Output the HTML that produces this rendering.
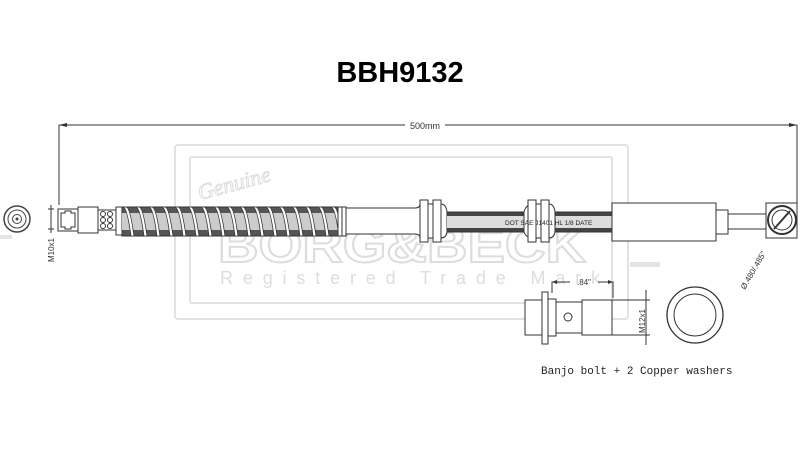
<!DOCTYPE html>
<html><head><meta charset="utf-8"><style>
html,body{margin:0;padding:0;background:#fff;width:800px;height:464px;overflow:hidden}
</style></head><body>
<svg width="800" height="464" viewBox="0 0 800 464" xmlns="http://www.w3.org/2000/svg" font-family="Liberation Sans, sans-serif">
<rect width="800" height="464" fill="#fff"/>
<text x="400" y="82" text-anchor="middle" font-size="29" font-weight="bold" fill="#000">BBH9132</text>
<!-- dimension -->
<line x1="59" y1="125" x2="797" y2="125" stroke="#333" stroke-width="1"/>
<polygon points="59,125 67,123 67,127" fill="#333"/>
<polygon points="797,125 789,123 789,127" fill="#333"/>
<rect x="405" y="119" width="40" height="12" fill="#fff"/>
<text x="425" y="129" text-anchor="middle" font-size="9" fill="#333">500mm</text>
<line x1="59" y1="125" x2="59" y2="205" stroke="#333"/>
<line x1="797" y1="125" x2="797" y2="203" stroke="#333"/>
<!-- watermark -->
<g fill="none" stroke="#e2e2e2" stroke-width="2">
<rect x="175" y="145" width="453" height="174" rx="3"/>
<rect x="190" y="157" width="422" height="146" rx="2"/>
</g>
<text x="200" y="200" font-size="22" font-style="italic" fill="none" stroke="#ddd" font-family="Liberation Serif, serif" transform="rotate(-15 200 200)">Genuine</text>
<text x="218" y="262" font-size="50" font-weight="bold" fill="none" stroke="#ddd" stroke-width="2" textLength="368" lengthAdjust="spacingAndGlyphs">BORG&amp;BECK</text>
<text x="220" y="284" font-size="18" fill="#ddd" textLength="380" lengthAdjust="spacing">Registered Trade Mark</text>
<g fill="#e4e4e4"><rect x="630" y="205" width="30" height="5"/><rect x="630" y="235" width="25" height="5"/><rect x="630" y="262" width="30" height="5"/><rect x="0" y="235" width="12" height="4"/></g>
<!-- left end circle -->
<circle cx="17" cy="219" r="13" fill="#fff" stroke="#444" stroke-width="1.5"/>
<circle cx="17" cy="219" r="9" fill="none" stroke="#444"/>
<circle cx="17" cy="219" r="4.5" fill="none" stroke="#444"/>
<circle cx="17" cy="219" r="1.5" fill="#444"/>
<!-- M10x1 -->
<line x1="51" y1="205" x2="51" y2="233" stroke="#333"/>
<line x1="48" y1="209" x2="54" y2="209" stroke="#333"/>
<line x1="48" y1="229" x2="54" y2="229" stroke="#333"/>
<text x="0" y="0" font-size="8" fill="#333" transform="translate(54 262) rotate(-90)">M10x1</text>
<!-- hose -->
<g stroke="#333" fill="#fff" stroke-width="1">
<rect x="58" y="209" width="20" height="22"/>
<path d="M61 213h4v-2h6v2h4v14h-4v2h-6v-2h-4z" fill="none"/>
<rect x="78" y="207" width="20" height="26"/>
<rect x="98" y="210" width="18" height="20"/>
<rect x="116" y="207" width="6" height="28"/>
<rect x="122" y="207" width="223" height="29" fill="#555"/>
<rect x="122" y="213" width="223" height="17" fill="#ccc" stroke="none"/>
</g>
<g fill="none" stroke="#333">
<circle cx="103" cy="214" r="2.5"/><circle cx="103" cy="220" r="2.5"/><circle cx="103" cy="226" r="2.5"/>
<circle cx="110" cy="214" r="2.5"/><circle cx="110" cy="220" r="2.5"/><circle cx="110" cy="226" r="2.5"/>
</g>
<g id="sp" fill="#fff" stroke="#333" stroke-width="0.8">
<path d="M126 207 q4 0 8 29 h-3 q-4 -29 -8 -29z"/>
<path d="M139 207 q4 0 8 29 h-3 q-4 -29 -8 -29z"/>
<path d="M152 207 q4 0 8 29 h-3 q-4 -29 -8 -29z"/>
<path d="M165 207 q4 0 8 29 h-3 q-4 -29 -8 -29z"/>
<path d="M178 207 q4 0 8 29 h-3 q-4 -29 -8 -29z"/>
<path d="M191 207 q4 0 8 29 h-3 q-4 -29 -8 -29z"/>
<path d="M204 207 q4 0 8 29 h-3 q-4 -29 -8 -29z"/>
<path d="M217 207 q4 0 8 29 h-3 q-4 -29 -8 -29z"/>
<path d="M230 207 q4 0 8 29 h-3 q-4 -29 -8 -29z"/>
<path d="M243 207 q4 0 8 29 h-3 q-4 -29 -8 -29z"/>
<path d="M256 207 q4 0 8 29 h-3 q-4 -29 -8 -29z"/>
<path d="M269 207 q4 0 8 29 h-3 q-4 -29 -8 -29z"/>
<path d="M282 207 q4 0 8 29 h-3 q-4 -29 -8 -29z"/>
<path d="M295 207 q4 0 8 29 h-3 q-4 -29 -8 -29z"/>
<path d="M308 207 q4 0 8 29 h-3 q-4 -29 -8 -29z"/>
<path d="M321 207 q4 0 8 29 h-3 q-4 -29 -8 -29z"/>
<path d="M334 207 q4 0 8 29 h-3 q-4 -29 -8 -29z"/>
</g>
<g stroke="#333" fill="#fff">
<rect x="338" y="207" width="4" height="29"/><rect x="342" y="207" width="4" height="29"/>
<path d="M346 208 H415 Q420 208 420 204 V238 Q420 234 415 234 H346z"/>
<rect x="420" y="200" width="8" height="42"/><rect x="433" y="200" width="8" height="42"/>
<rect x="428" y="204" width="5" height="34"/>
<path d="M441 204 Q446 204 447 212 V232 Q446 238 441 238z"/>
<rect x="447" y="212" width="165" height="20" fill="#444"/>
<rect x="447" y="216" width="165" height="12" fill="#ddd" stroke="none"/>
<path d="M534 204 Q526 204 524 212 V232 Q526 238 534 238z"/>
<rect x="528" y="200" width="8" height="42"/><rect x="541" y="200" width="8" height="42"/>
<rect x="536" y="204" width="5" height="34"/>
<path d="M549 204 Q554 204 555 212 V232 Q554 238 549 238z"/>
<rect x="612" y="203" width="104" height="38"/>
<rect x="716" y="210" width="12" height="24"/>
<rect x="728" y="214" width="38" height="15"/>
<rect x="766" y="203" width="31" height="35"/>
<circle cx="782" cy="220" r="14" stroke-width="2"/>
<circle cx="782" cy="220" r="10"/>
<line x1="774" y1="229" x2="790" y2="211" stroke-width="2"/>
</g>
<text x="505" y="225" font-size="6.5" fill="#222">DOT SAE J1401 HL 1/8 DATE</text>
<text x="0" y="0" font-size="8" fill="#333" transform="translate(745 290) rotate(-60)">Ø.480/.485"</text>
<!-- banjo bolt -->
<g stroke="#333" fill="#fff">
<rect x="525" y="300" width="17" height="35"/>
<rect x="542" y="292" width="6" height="52"/>
<rect x="548" y="299" width="8" height="37"/>
<rect x="556" y="302" width="26" height="31"/>
<circle cx="568" cy="317" r="4"/>
<rect x="582" y="300" width="30" height="35"/>
</g>
<g stroke="#333" fill="none">
<path d="M552 293 V282 H570 M598 282 H613 V298"/>
<line x1="612" y1="300" x2="650" y2="300"/><line x1="612" y1="335" x2="650" y2="335"/>
<line x1="646" y1="290" x2="646" y2="345"/>
</g>
<polygon points="552,282 557,280 557,284" fill="#333"/>
<polygon points="613,282 608,280 608,284" fill="#333"/>
<text x="584" y="285" text-anchor="middle" font-size="8" fill="#333">.84"</text>
<text x="0" y="0" font-size="8" fill="#333" transform="translate(645 333) rotate(-90)">M12x1</text>
<circle cx="695" cy="315" r="28" fill="#fff" stroke="#333" stroke-width="1.3"/>
<circle cx="695" cy="315" r="21" fill="none" stroke="#333"/>
<text x="541" y="374" font-size="11" fill="#222" font-family="Liberation Mono, monospace">Banjo bolt + 2 Copper washers</text>
</svg>
</body></html>
